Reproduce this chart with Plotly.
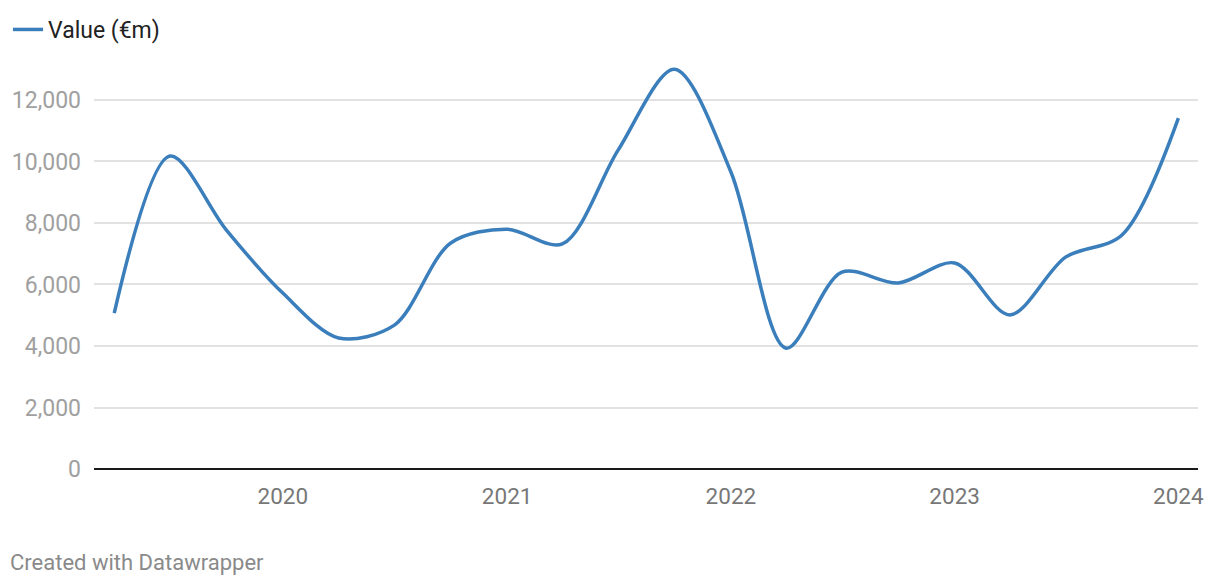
import plotly.graph_objects as go

quarters = ["2019-04-01", "2019-07-01", "2019-10-01", "2020-01-01", "2020-04-01",
            "2020-07-01", "2020-10-01", "2021-01-01", "2021-04-01", "2021-07-01",
            "2021-10-01", "2022-01-01", "2022-04-01", "2022-07-01", "2022-10-01",
            "2023-01-01", "2023-04-01", "2023-07-01", "2023-10-01", "2024-01-01"]
values = [5070, 10180, 7770, 5720, 4260, 4680, 7350, 7800, 7320, 10370,
          13000, 9660, 3930, 6400, 6050, 6700, 5010, 6890, 7610, 11410]
series_name = "Value (€m)"
x_ticks = ["2020-01-01", "2021-01-01", "2022-01-01", "2023-01-01", "2024-01-01"]
x_tick_labels = ["2020", "2021", "2022", "2023", "2024"]
y_ticks = [0, 2000, 4000, 6000, 8000, 10000, 12000]
y_tick_labels = ["0", "2,000", "4,000", "6,000", "8,000", "10,000", "12,000"]

fig = go.Figure()
fig.add_trace(go.Scatter(
    x=quarters, y=values, name=series_name, mode="lines",
    line=dict(color="#3a7ebb", width=3.5, shape="spline", smoothing=0.9),
))

fig.update_layout(
    width=1220, height=586,
    margin=dict(l=86, r=30, t=52, b=125, autoexpand=False),
    paper_bgcolor="white", plot_bgcolor="white",
    font=dict(family="Roboto", size=22, color="#999999"),
    showlegend=True,
    legend=dict(
        xref="container", yref="container", x=-0.004, y=1.0,
        xanchor="left", yanchor="top", orientation="h",
        font=dict(family="Roboto", size=23, color="#222222"),
        bgcolor="rgba(0,0,0,0)",
    ),
    xaxis=dict(
        type="date", range=["2019-02-27", "2024-02-02"],
        tickvals=x_ticks, ticktext=x_tick_labels,
        showgrid=False, zeroline=False, showline=False, automargin=False,
        ticks="", ticklabelstandoff=11,
        tickfont=dict(color="#777777", size=22.5),
    ),
    yaxis=dict(
        range=[0, 13300], tickvals=y_ticks, ticktext=y_tick_labels,
        showgrid=True, gridcolor="#e2e2e2", gridwidth=1.5,
        zeroline=True, zerolinecolor="#1a1a1a", zerolinewidth=2,
        showline=False, ticks="", ticklabelstandoff=12, automargin=False,
        tickfont=dict(color="#a0a0a0", size=23),
    ),
    annotations=[dict(
        text="Created with Datawrapper", xref="paper", yref="paper",
        x=-0.0779, y=-0.2298, xanchor="left", yanchor="middle", showarrow=False,
        font=dict(family="Roboto", size=22, color="#8a8a8a"),
    )],
)

fig.write_html("out.html")
